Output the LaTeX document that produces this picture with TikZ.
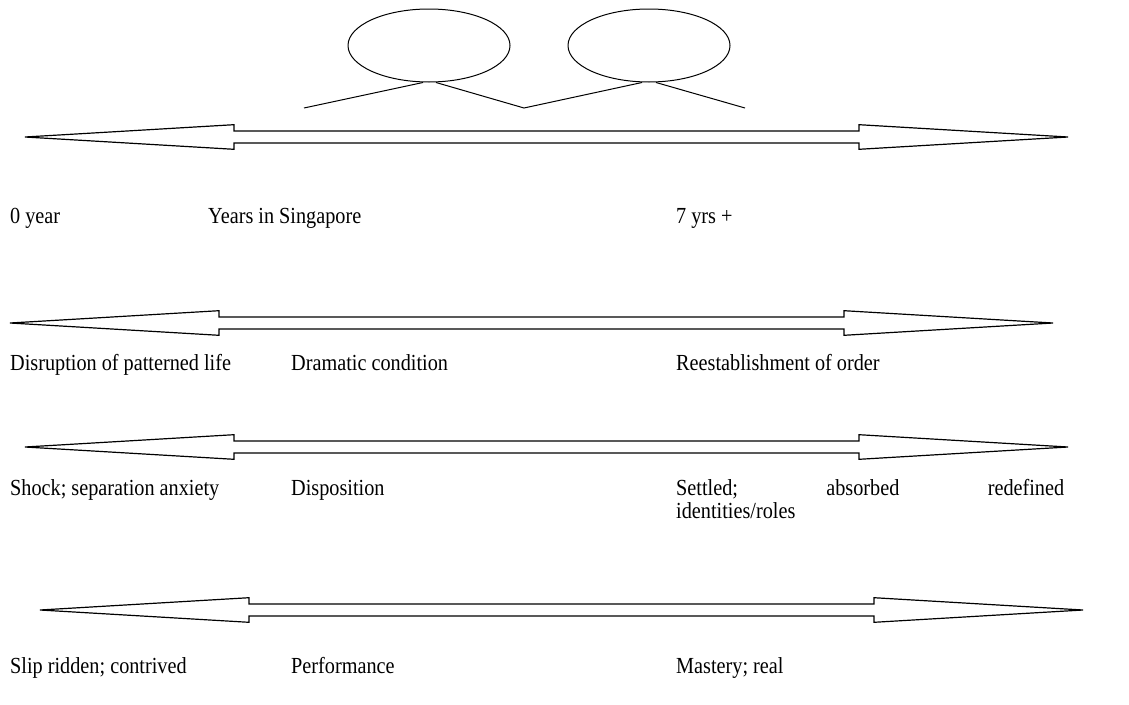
\documentclass[tikz,border=0pt]{standalone}
\usepackage{fontspec}
\setmainfont{Liberation Serif}[FakeStretch=0.88]
\usetikzlibrary{shapes.geometric}
\tikzset{
  dblarrow/.pic={code={%
      % hollow double-headed arrow, drawn from its left tip
      \draw [line width=1.2pt, line join=miter]
        (0,0) -- (209,-12.3) -- (209,-6) -- (834,-6) -- (834,-12.3)
        -- (1043,0) -- (834,12.3) -- (834,6) -- (209,6) -- (209,12.3) -- cycle;
  }},
  lbl/.style={anchor=base west, inner sep=0pt,
    font=\fontsize{23}{23}\selectfont},
  head/.style={draw, ellipse, line width=1pt, minimum width=162pt,
    minimum height=73pt, inner sep=0pt},
  arm/.style={line width=1pt}
}
\begin{document}
\begin{tikzpicture}[x=1pt, y=-1pt]
    \useasboundingbox (0,0) rectangle (1129,704);

    % the two heads and their arms
    \node [head] (headL) at (429,45.5) {};
    \node [head] (headR) at (649,45.5) {};
    \coordinate (armA) at (304,108);
    \coordinate (armB) at (524,108);
    \coordinate (armC) at (745,108);
    \draw [arm] (armA) -- ([xshift=-6pt]headL.south);
    \draw [arm] ([xshift=7pt]headL.south) -- (armB) -- ([xshift=-7pt]headR.south);
    \draw [arm] ([xshift=7pt]headR.south) -- (armC);

    % the four scales
    \path (25,137) pic {dblarrow};
    \path (10,323) pic {dblarrow};
    \path (25,447) pic {dblarrow};
    \path (40,610) pic {dblarrow};

    % add labels
    \node [lbl] (yr0) at (10,223) {0 year};
    \node [lbl] (yrs) at (208,223) {Years in Singapore};
    \node [lbl] (yr7) at (676,223) {7 yrs +};

    \node [lbl] (disrupt) at (10,370) {Disruption of patterned life};
    \node [lbl] (drama) at (291,370) {Dramatic condition};
    \node [lbl] (order) at (676,370) {Reestablishment of order};

    \node [lbl] (shock) at (10,495) {Shock; separation anxiety};
    \node [lbl] (dispo) at (291,495) {Disposition};
    \node [lbl, text width=388pt, align=left] (settled) at (676,495)
      {Settled;\hfill absorbed\hfill redefined\\identities/roles};

    \node [lbl] (slip) at (10,673) {Slip ridden; contrived};
    \node [lbl] (perf) at (291,673) {Performance};
    \node [lbl] (mastery) at (676,673) {Mastery; real};
\end{tikzpicture}
\end{document}
